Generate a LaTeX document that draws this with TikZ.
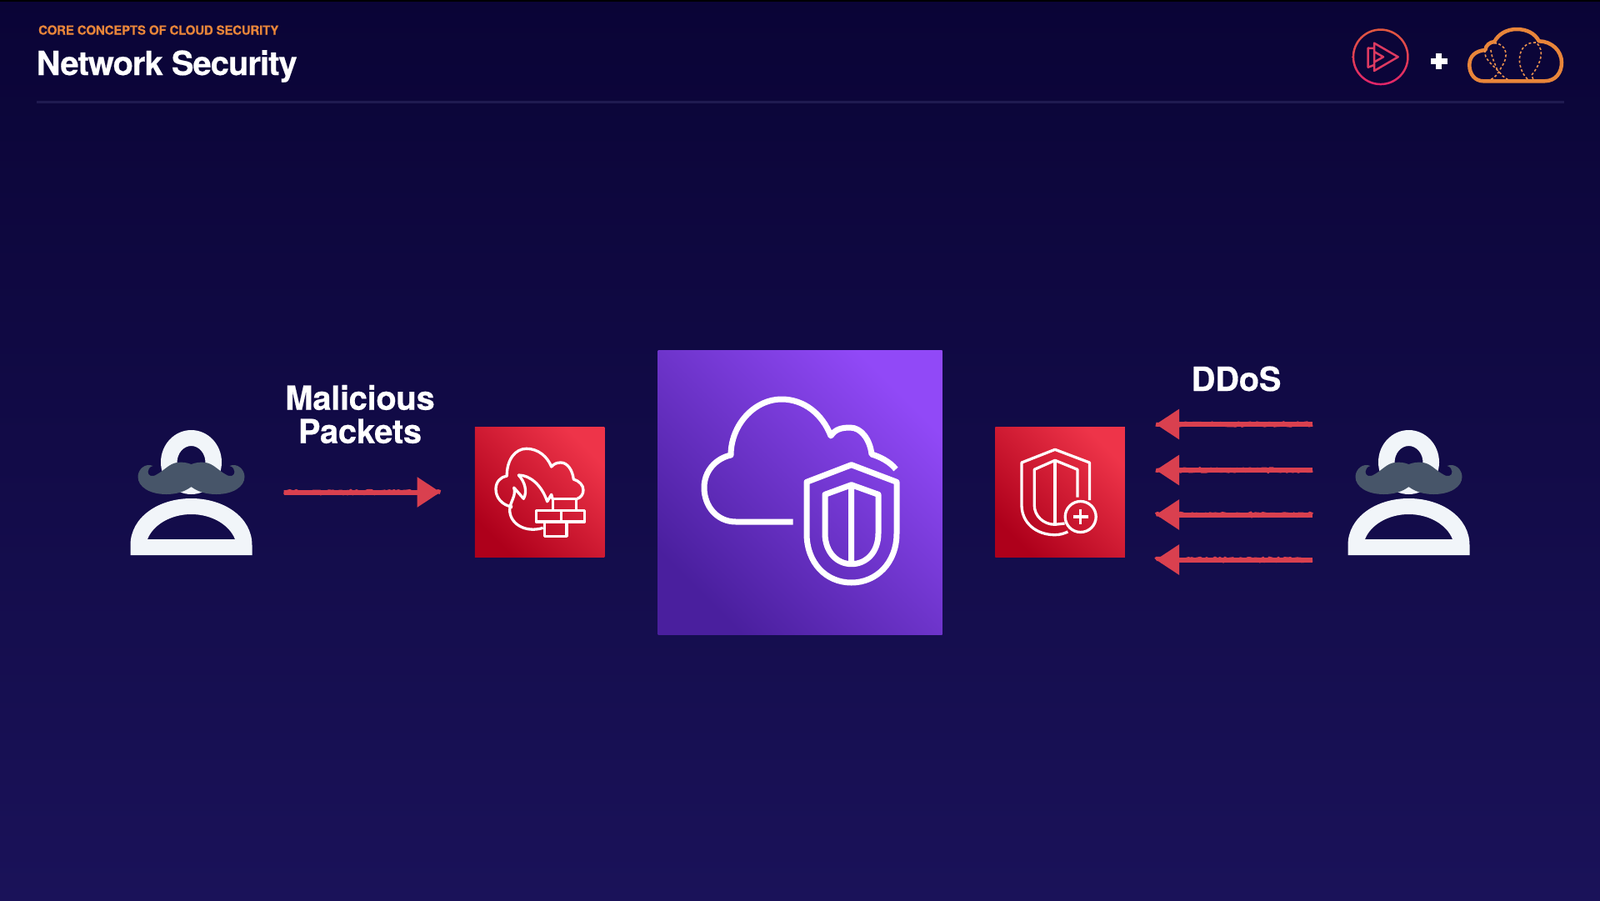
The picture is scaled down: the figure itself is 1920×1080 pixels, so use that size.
\documentclass[tikz,border=0pt]{standalone}
\usepackage{fontspec}
\setmainfont{TeX Gyre Heros}
\usetikzlibrary{arrows.meta, decorations.pathmorphing}

\definecolor{bgtop}{HTML}{0A0436}
\definecolor{bgbottom}{HTML}{1A1259}
\definecolor{rule}{HTML}{1F1A50}
\definecolor{accent}{HTML}{E8853A}
\definecolor{chalk}{HTML}{D9404F}
\definecolor{skin}{HTML}{F1F5F9}
\definecolor{whisker}{HTML}{475569}
\definecolor{redhi}{HTML}{EE3449}
\definecolor{redlo}{HTML}{AE001B}
\definecolor{violethi}{HTML}{9149F7}
\definecolor{violetlo}{HTML}{4A1F9E}
\definecolor{plumtop}{HTML}{E0583F}
\definecolor{plumlow}{HTML}{E0246A}

\tikzstyle{redbox} = [rectangle, inner sep=0pt, minimum size=155.5pt, bottom color=redlo, top color=redhi, shading angle=-45]
\tikzstyle{violetbox} = [rectangle, inner sep=0pt, minimum size=341pt, bottom color=violetlo, top color=violethi, shading angle=-45]
\tikzstyle{bigline} = [draw=white, line width=7pt, line join=round]
\tikzstyle{thinline} = [draw=white, line width=3.3pt, line join=round]
\tikzstyle{packet} = [chalk, line width=6pt, -{Triangle[length=28pt,width=35pt]},
  postaction={draw, -, line width=5pt, decorate, decoration={random steps, segment length=3pt, amplitude=1.2pt}}]
\tikzstyle{heading} = [text=white, font=\bfseries\fontsize{40}{40}\selectfont\addfontfeatures{FakeBold=0.4,LetterSpace=-0.9}, align=center, inner sep=0pt]

\tikzset{
  hacker/.pic={
    \fill[skin, even odd rule] (0,-111.5) ellipse [x radius=36.5, y radius=38.5] (0,-111) ellipse [x radius=17, y radius=20];
    \fill[skin, even odd rule] (-73,0) -- (-73,-12) .. controls (-73,-45) and (-40,-68) .. (0,-68) .. controls (40,-68) and (73,-45) .. (73,-12) -- (73,0) -- cycle
      (-52.5,-19) .. controls (-46,-36) and (-25,-49) .. (0,-49) .. controls (25,-49) and (46,-36) .. (52.5,-19) -- cycle;
    \foreach \s in {-1,1} {
      \fill[whisker, xscale=\s] (0.5,-109) -- (0,-109) .. controls (-5,-111) and (-11,-112) .. (-17,-111) .. controls (-26,-110) and (-32,-102) .. (-41,-97)
        .. controls (-47,-93) and (-52,-95) .. (-52,-100) .. controls (-52,-103) and (-50,-106) .. (-46,-107)
        .. controls (-55,-111) and (-64,-103) .. (-64,-94) .. controls (-64,-82) and (-50,-73) .. (-30,-73)
        .. controls (-18,-73) and (-8,-76) .. (0,-82) -- (0.5,-82) -- cycle;
    }
  }
}

\begin{document}
\begin{tikzpicture}[x=1pt,y=-1pt]
\useasboundingbox (0,0) rectangle (1920,1080);

% Background
\shade[top color=bgtop, bottom color=bgbottom] (0,0) rectangle (1920,1080);
\fill[black] (0,0) rectangle (1920,2);
\fill[rule] (44,120.5) rectangle (1877,124);

% Title
\node (topic) [anchor=base west, inner sep=0pt, text=accent, font=\bfseries\fontsize{15}{16}\selectfont\addfontfeatures{FakeBold=0.3,LetterSpace=-1.3}] at (46,41.5) {CORE CONCEPTS OF CLOUD SECURITY};
\node (title) [anchor=base west, inner sep=0pt, text=white, font=\bfseries\fontsize{40}{42}\selectfont\addfontfeatures{FakeBold=0.4,LetterSpace=-2.5}] at (43.5,90) {Network Security};

% Logos
\path[even odd rule, top color=plumtop, bottom color=plumlow] (1656.7,68.3) circle (34) (1656.7,68.3) circle (31.5);
\draw[chalk!90!magenta, line width=2.5pt, line join=round] (1649,51.7) -- (1677.7,68.3) -- (1649,85) -- cycle
  (1649,58) -- (1641.7,57.7) -- (1641.7,80.7) -- (1649,78) (1649,62) -- (1660,68.3) -- (1649,74.5);
\draw[white, line width=6.5pt] (1717,73.3) -- (1736.5,73.3) (1726.7,63.5) -- (1726.7,83);
\draw[accent, line width=4.5pt, line join=round] (1780,97.3) -- (1853.3,97.3) .. controls (1867,97.3) and (1874,87) .. (1874,75)
  .. controls (1874,61) and (1862,49.5) .. (1846.7,49.3) .. controls (1842,40) and (1832,35) .. (1820,35)
  .. controls (1808,35) and (1798,41) .. (1793.3,50) .. controls (1788,50.5) and (1783,54) .. (1782.3,60)
  .. controls (1771,61) and (1763.3,67) .. (1763.3,78) .. controls (1763.3,89) and (1770,97.3) .. (1780,97.3) -- cycle;
\draw[accent!90!white, line width=1.6pt, dash pattern=on 3pt off 2.5pt] (1793,51.7) .. controls (1808,52) and (1811,68) .. (1802,80) .. controls (1798,87) and (1796,93) .. (1787,96)
  (1782,60) .. controls (1780,72) and (1792,77) .. (1803,91) -- (1810,96)
  (1789,60) .. controls (1790,70) and (1795,78) .. (1797,85)
  (1833,95) .. controls (1818,80) and (1820,50) .. (1843,51) .. controls (1855,60) and (1848,78) .. (1838,90) -- (1840,96);

% Hackers
\pic (attacker) at (229.5,666) {hacker};
\pic (botmaster) at (1690.5,666) {hacker};

% Center block
\node (shieldbox) [violetbox] at (960,591) {};
\draw[bigline] (951.7,626) -- (883,626) .. controls (860,626) and (845,607) .. (845,585) .. controls (845,565) and (859,550) .. (877,546)
  .. controls (877,510) and (905,479) .. (938,479) .. controls (965,479) and (987,497) .. (997,523)
  .. controls (1002,515) and (1010,513) .. (1020,513) .. controls (1034,513) and (1044,528) .. (1046,545)
  .. controls (1056,548) and (1068,554) .. (1075,563);
\draw[bigline] (1021.7,557.7) -- (1076,578.3) -- (1076,640) .. controls (1076,675) and (1052,699) .. (1021.7,699)
  .. controls (991,699) and (968,675) .. (968,640) -- (968,578.3) -- cycle;
\draw[bigline] (1021.7,581.7) -- (1054,593.3) -- (1054,640) .. controls (1054,662) and (1040,676.7) .. (1021.7,676.7)
  .. controls (1004,676.7) and (990,662) .. (990,640) -- (990,593.3) -- cycle (1021.7,581.7) -- (1021.7,676.7);

% Firewall block
\node (firewall) [redbox] at (647.5,590.5) {};
\draw[thinline] (615,608.3) .. controls (602,606) and (595,597) .. (595,586.7) .. controls (595,578) and (601,572) .. (608.3,571)
  .. controls (608,552) and (618,538.3) .. (631.7,538.3) .. controls (646,538.3) and (657,548) .. (661.7,560)
  .. controls (665,556) and (669,555) .. (673,555) .. controls (681,555) and (687,564) .. (688.3,575)
  .. controls (695,577) and (700,582) .. (700,588) .. controls (700,593) and (697,597) .. (692.7,598.3);
\draw[thinline] (651.7,633.3) .. controls (630,640) and (611.7,628) .. (611.7,612) .. controls (611.7,602) and (620,595) .. (616.7,585)
  -- (628.3,598.3) .. controls (633,590) and (630,578) .. (622.3,570) .. controls (636,570) and (650,582) .. (656.7,601.7)
  -- (661.7,593.3) -- (663.3,599.3);
\draw[thinline] (663.3,598.3) rectangle (691.7,612.7);
\draw[thinline] (643.3,612.7) rectangle (673.3,626);
\draw[thinline] (673.3,612.7) rectangle (701.7,626);
\draw[thinline] (653.3,626) rectangle (680,643.3);

% Shield block
\node (advanced) [redbox] at (1272,590.5) {};
\draw[thinline] (1307.4,600) -- (1307.4,555) -- (1266,539.3) -- (1226,555) -- (1226,606)
  .. controls (1226,627) and (1243,641.7) .. (1266,641.7) .. controls (1272,641.7) and (1277,640) .. (1281.4,638);
\draw[thinline] (1293,596.7) -- (1293,563.3) -- (1266,552.3) -- (1241.2,563.3) -- (1241.2,606)
  .. controls (1241.2,619) and (1252,629.3) .. (1266,629.3) -- (1277.6,628);
\draw[thinline] (1266,552.3) -- (1266,629.3);
\draw[thinline] (1296.7,620) circle (18.5);
\draw[thinline] (1287.5,620) -- (1306,620) (1296.7,611) -- (1296.7,629);

% Labels
\node (malicious) [heading, anchor=base] at (432,531.7) {Malicious\\Packets};
\node (ddos) [heading, anchor=base] at (1483.5,469) {DDoS};

% Arrows Connecting Components
\coordinate (badstart) at (340.5,590.5);
\coordinate (badend) at (528.5,590.5);
\draw[packet] (badstart) -- (badend);
\foreach \n/\y in {a/509, b/564, c/617.5, d/671.5} {
  \coordinate (flood\n start) at (1575,\y);
  \coordinate (flood\n end) at (1387,\y);
  \draw[packet] (flood\n start) -- (flood\n end);
}

\end{tikzpicture}
\end{document}
